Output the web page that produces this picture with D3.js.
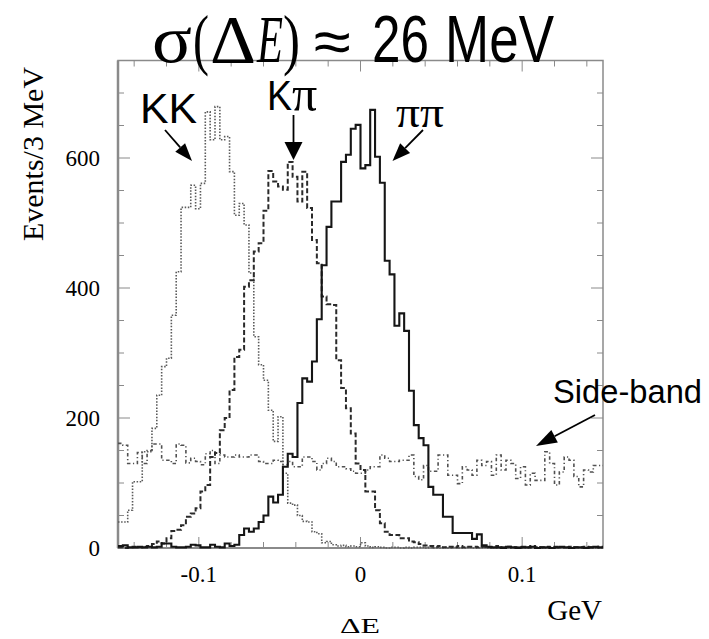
<!DOCTYPE html>
<html>
<head>
<meta charset="utf-8">
<script src="https://cdn.jsdelivr.net/npm/d3@7"></script>
<style>
  body { margin: 0; background: #fff; }
  svg { display: block; }
</style>
</head>
<body>
<svg width="709" height="639"></svg>
<script>
// 3 MeV bins from -0.15 to 0.15 GeV (100 bins)
var binStart = -0.15, binWidth = 0.003;

var kk = [40, 40, 58, 102, 102, 148, 148, 184, 235, 279, 292, 358, 425, 524, 524, 558, 522, 561, 671, 628,
          679, 628, 633, 579, 512, 530, 497, 423, 325, 282, 258, 212, 164, 202, 115, 69, 66, 50, 41, 40,
          25, 22, 8, 10, 5, 3, 4, 2, 3, 2, 8, 3, 1, 2, 1, 0, 1, 1, 0, 1,
          0, 1, 1, 0, 1, 0, 0, 1, 0, 1, 0, 0, 1, 0, 0, 1, 0, 0, 0, 1,
          0, 0, 1, 0, 0, 0, 1, 0, 0, 0, 0, 1, 0, 0, 0, 0, 1, 0, 0, 0];

var kpi = [1, 0, 1, 2, 1, 2, 3, 6, 10, 7, 15, 26, 28, 35, 48, 53, 61, 87, 97, 140,
           146, 181, 200, 243, 294, 305, 402, 412, 456, 469, 519, 580, 564, 556, 551, 594, 571, 533, 579, 523,
           474, 438, 387, 375, 374, 289, 246, 215, 176, 130, 120, 87, 87, 58, 38, 25, 20, 20, 15, 15,
           10, 9, 6, 4, 3, 2, 3, 1, 2, 1, 3, 1, 2, 2, 1, 2, 1, 1, 3, 1,
           2, 1, 1, 2, 1, 3, 1, 1, 2, 1, 2, 1, 1, 2, 1, 1, 2, 1, 1, 2];

var pipi = [3, 4, 1, 1, 2, 1, 2, 1, 2, 7, 7, 2, 1, 1, 2, 5, 4, 1, 1, 5,
            2, 1, 7, 3, 5, 20, 30, 25, 30, 40, 50, 79, 70, 82, 125, 145, 140, 223, 261, 256,
            287, 352, 435, 494, 533, 533, 594, 605, 645, 651, 584, 589, 674, 602, 562, 442, 421, 342, 361, 334,
            242, 189, 169, 158, 94, 82, 82, 48, 48, 23, 23, 23, 23, 14, 21, 4, 2, 1, 1, 0,
            2, 1, 0, 1, 1, 2, 0, 1, 1, 0, 1, 2, 1, 0, 1, 1, 0, 1, 2, 1];

var sideband = [161, 158, 130, 130, 147, 130, 150, 160, 160, 135, 135, 130, 160, 158, 131, 138, 133, 128, 145, 150,
                130, 143, 140, 140, 143, 140, 140, 143, 143, 133, 130, 130, 135, 133, 128, 133, 125, 125, 140, 140,
                133, 120, 130, 138, 133, 125, 125, 122, 118, 115, 115, 120, 125, 125, 143, 138, 133, 133, 135, 135,
                143, 110, 105, 127, 118, 118, 143, 143, 112, 112, 99, 125, 120, 112, 135, 127, 133, 112, 143, 120,
                135, 130, 107, 125, 97, 115, 104, 104, 148, 130, 97, 117, 140, 135, 110, 94, 120, 117, 127, 127];

var xTickLabels = [-0.1, 0, 0.1];
var yTickLabels = [0, 200, 400, 600];

var svg = d3.select("svg"),
    plotL = 118, plotR = 603, plotT = 60.5, plotB = 548;

var x = d3.scaleLinear().domain([-0.15, 0.15]).range([plotL, plotR]),
    y = d3.scaleLinear().domain([0, 750]).range([plotB, plotT]);

var serif = '"Liberation Serif", "Times New Roman", serif',
    sans = '"Liberation Sans", Arial, sans-serif';

// frame and ticks
var frame = svg.append("g").attr("stroke", "#8a8a8a").attr("fill", "none");
frame.append("rect")
    .attr("x", plotL).attr("y", plotT)
    .attr("width", plotR - plotL).attr("height", plotB - plotT)
    .attr("stroke-width", 1.5);
frame.append("line")
    .attr("x1", plotL).attr("x2", plotL).attr("y1", plotT).attr("y2", plotB)
    .attr("stroke-width", 2.5);
frame.append("line")
    .attr("x1", plotL).attr("x2", plotR).attr("y1", plotB).attr("y2", plotB)
    .attr("stroke-width", 2.2);

var yTicks = d3.range(0, 751, 50);
yTicks.forEach(function(v) {
    var len = v % 200 === 0 ? 12 : 6;
    frame.append("line").attr("x1", plotL).attr("x2", plotL + len)
        .attr("y1", y(v)).attr("y2", y(v)).attr("stroke-width", 1);
    frame.append("line").attr("x1", plotR).attr("x2", plotR - len)
        .attr("y1", y(v)).attr("y2", y(v)).attr("stroke-width", 1);
});

var xTicks = d3.range(-7, 8).map(function(k) { return k * 0.02; });
xTicks.forEach(function(v) {
    var major = Math.abs(Math.round(v * 100)) % 10 === 0;
    var len = major ? 11 : 6;
    frame.append("line").attr("x1", x(v)).attr("x2", x(v))
        .attr("y1", plotB).attr("y2", plotB - len).attr("stroke-width", 1);
    frame.append("line").attr("x1", x(v)).attr("x2", x(v))
        .attr("y1", plotT).attr("y2", plotT + len).attr("stroke-width", 1);
});

// tick labels
svg.selectAll(".ylab")
    .data(yTickLabels)
    .enter().append("text")
        .attr("class", "ylab")
        .attr("x", 100)
        .attr("y", function(d) { return y(d) + 8; })
        .attr("text-anchor", "end")
        .attr("font-family", serif)
        .attr("font-size", 23)
        .text(function(d) { return d; });

svg.selectAll(".xlab")
    .data(xTickLabels)
    .enter().append("text")
        .attr("class", "xlab")
        .attr("x", function(d) { return x(d); })
        .attr("y", 582)
        .attr("text-anchor", "middle")
        .attr("font-family", serif)
        .attr("font-size", 23)
        .text(function(d) { return d; });

svg.append("text")
    .attr("x", 602).attr("y", 620)
    .attr("text-anchor", "end")
    .attr("font-family", serif).attr("font-size", 29)
    .text("GeV");

svg.append("text")
    .attr("x", 340).attr("y", 633)
    .attr("font-family", serif).attr("font-size", 21)
    .attr("textLength", 40).attr("lengthAdjust", "spacingAndGlyphs")
    .text("ΔE");

svg.append("text")
    .attr("transform", "translate(43,154) rotate(-90)")
    .attr("text-anchor", "middle")
    .attr("font-family", serif).attr("font-size", 30)
    .text("Events/3 MeV");

// histograms
var edges = d3.range(0, 101).map(function(i) { return binStart + i * binWidth; });

function steps(values) {
    var pts = values.map(function(v, i) { return [edges[i], v]; });
    pts.push([edges[100], values[values.length - 1]]);
    return pts;
}

var line = d3.line()
    .x(function(d) { return x(d[0]); })
    .y(function(d) { return y(d[1]); })
    .curve(d3.curveStepAfter);

var series = [
    {values: sideband, color: "#505050", width: 1.6, dash: "3.5,2.5,1.2,2.5"},
    {values: kk, color: "#5a5a5a", width: 1.6, dash: "1.5,1.6"},
    {values: kpi, color: "#2a2a2a", width: 2, dash: "5,2.5"},
    {values: pipi, color: "#151515", width: 2.1, dash: null}
];

svg.selectAll(".hist")
    .data(series)
    .enter().append("path")
        .attr("class", "hist")
        .attr("fill", "none")
        .attr("stroke", function(d) { return d.color; })
        .attr("stroke-width", function(d) { return d.width; })
        .attr("stroke-dasharray", function(d) { return d.dash; })
        .attr("d", function(d) { return line(steps(d.values)); });

// labels and arrows
function arrow(x1, y1, x2, y2, headLen, headW) {
    var dx = x2 - x1, dy = y2 - y1, L = Math.sqrt(dx * dx + dy * dy);
    var ux = dx / L, uy = dy / L;
    var bx = x2 - ux * headLen, by = y2 - uy * headLen;
    svg.append("line")
        .attr("x1", x1).attr("y1", y1).attr("x2", bx).attr("y2", by)
        .attr("stroke", "#000").attr("stroke-width", 1.8);
    svg.append("polygon")
        .attr("points", [
            [x2, y2],
            [bx - uy * headW / 2, by + ux * headW / 2],
            [bx + uy * headW / 2, by - ux * headW / 2]
        ].map(function(p) { return p.join(","); }).join(" "))
        .attr("fill", "#000");
}

svg.append("text")
    .attr("x", 140).attr("y", 123)
    .attr("font-family", sans).attr("font-size", 42)
    .attr("textLength", 57).attr("lengthAdjust", "spacingAndGlyphs")
    .text("KK");
arrow(165, 130, 192, 161, 18, 13);

svg.append("text")
    .attr("x", 267).attr("y", 110)
    .attr("font-family", sans).attr("font-size", 42)
    .attr("textLength", 25).attr("lengthAdjust", "spacingAndGlyphs")
    .text("K");
svg.append("text")
    .attr("x", 292).attr("y", 111)
    .attr("font-family", serif).attr("font-size", 50)
    .text("π");
arrow(293.5, 115, 293.5, 160, 18, 18);

svg.append("text")
    .attr("x", 396).attr("y", 127)
    .attr("font-family", serif).attr("font-size", 45)
    .attr("textLength", 48).attr("lengthAdjust", "spacingAndGlyphs")
    .text("ππ");
arrow(423, 130, 392.5, 161, 18, 14);

svg.append("text")
    .attr("x", 553).attr("y", 403)
    .attr("font-family", sans).attr("font-size", 33)
    .attr("textLength", 149).attr("lengthAdjust", "spacingAndGlyphs")
    .text("Side-band");
arrow(595, 415, 536, 446, 21, 14);

// title
var title = [
    {t: "σ", x: 152, w: 40, f: serif, s: 68, it: false},
    {t: "(", x: 193, w: 16, f: serif, s: 68, it: false},
    {t: "Δ", x: 210, w: 46, f: serif, s: 68, it: false},
    {t: "E", x: 257, w: 26, f: serif, s: 68, it: true},
    {t: ")", x: 283, w: 17, f: serif, s: 68, it: false},
    {t: "≈", x: 314, w: 37, f: sans, s: 60, it: false},
    {t: "26", x: 372, w: 57, f: sans, s: 67, it: false},
    {t: "MeV", x: 445, w: 109, f: sans, s: 67, it: false}
];

svg.selectAll(".title")
    .data(title)
    .enter().append("text")
        .attr("class", "title")
        .attr("x", function(d) { return d.x; })
        .attr("y", 62)
        .attr("font-family", function(d) { return d.f; })
        .attr("font-size", function(d) { return d.s; })
        .attr("font-style", function(d) { return d.it ? "italic" : "normal"; })
        .attr("textLength", function(d) { return d.w; })
        .attr("lengthAdjust", "spacingAndGlyphs")
        .text(function(d) { return d.t; });
</script>
</body>
</html>
